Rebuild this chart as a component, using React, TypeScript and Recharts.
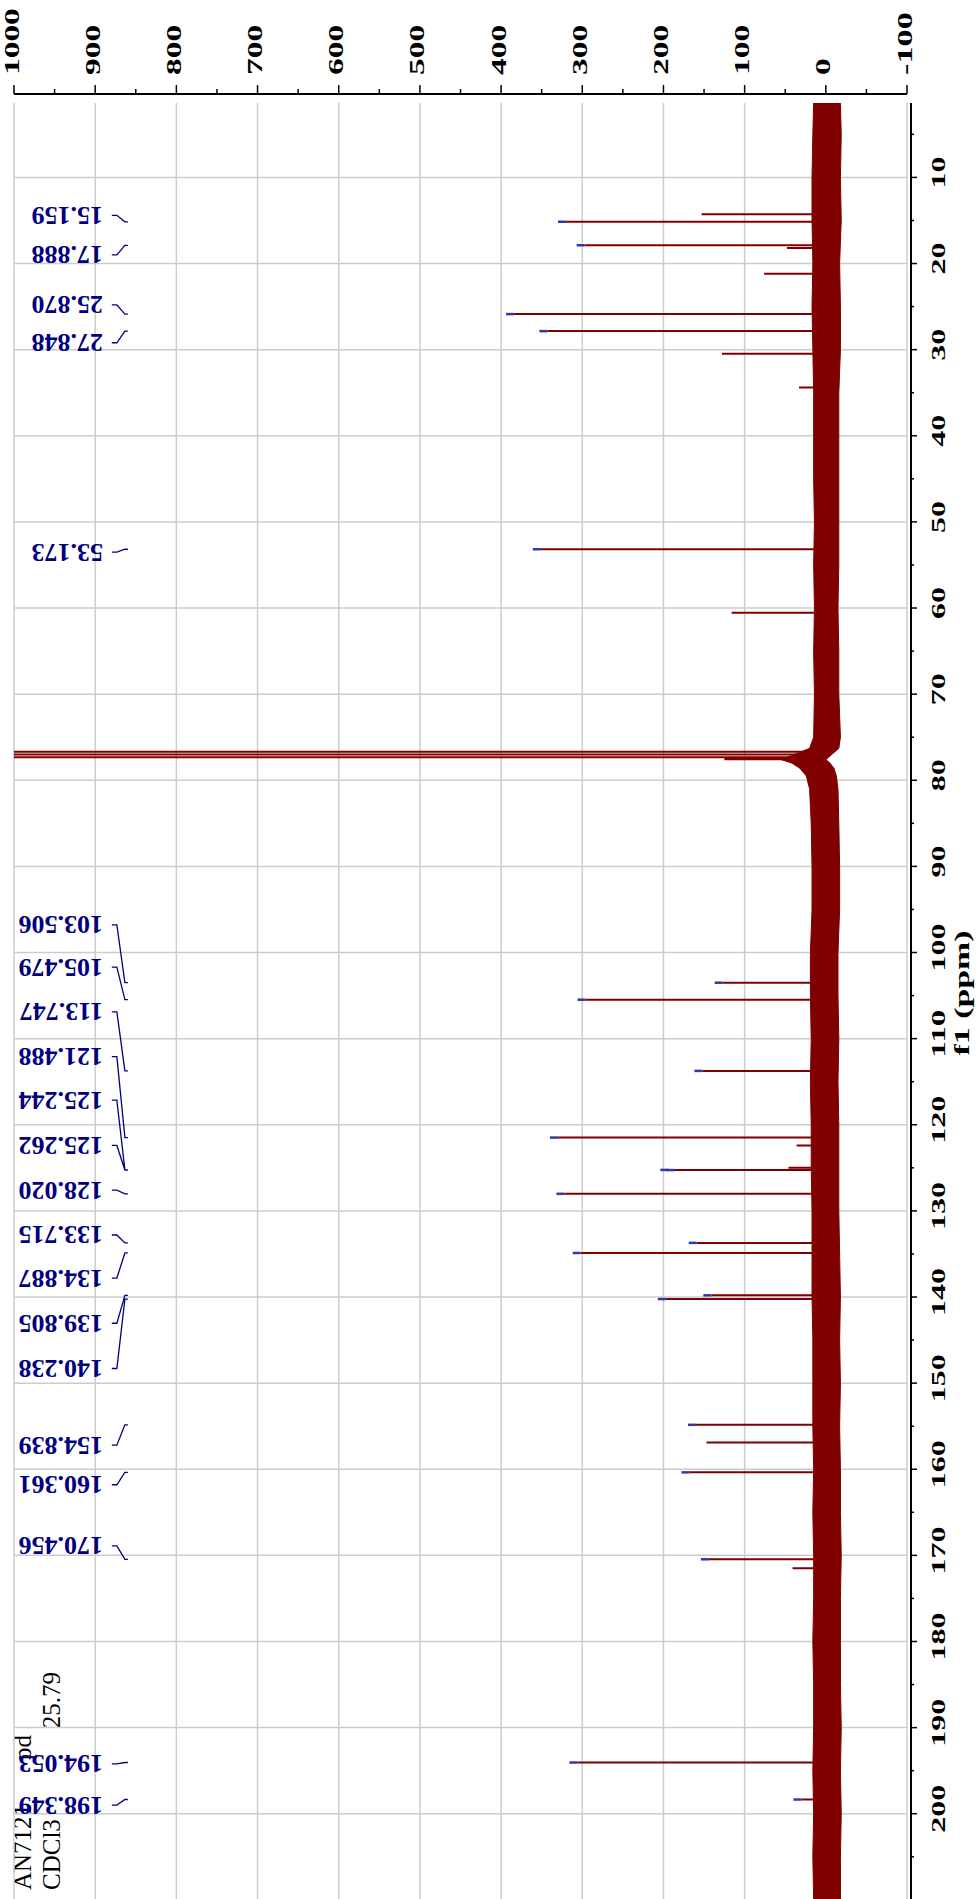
import React from 'react';
import {
  ComposedChart,
  Area,
  Line,
  Scatter,
  XAxis,
  YAxis,
  CartesianGrid,
} from 'recharts';

const SERIF = "'Liberation Serif', 'Times New Roman', serif";
const RED = '#800000';
const NAVY = '#000080';

// baseline noise envelope (ppm, upper / lower edge)
const noisePpm = [
  1.36, 5, 10, 15, 20, 25, 30, 35, 40, 45, 50, 55, 60, 65, 70, 75, 76.3, 77.6,
  78.0, 78.6, 79.5, 81, 85, 90, 95, 100, 105, 110, 115, 120, 125, 130, 135,
  140, 145, 150, 155, 160, 165, 170, 175, 180, 185, 190, 195, 200, 205, 209.9,
];
const noiseHigh = [
  15, 16, 17, 17, 16, 17, 16, 15, 15, 15, 14, 15, 14, 15, 14, 15, 20, 55,
  42, 32, 24, 20, 18, 17, 17, 19, 19, 18, 19, 18, 18, 17, 17,
  17, 16, 16, 16, 15, 16, 15, 15, 16, 15, 15, 16, 15, 16, 15,
];
const noiseLow = [
  -18, -19, -18, -19, -17, -18, -18, -16, -16, -16, -16, -16, -15, -16, -16, -18, -16, 0,
  -5, -10, -13, -15, -16, -17, -17, -15, -15, -16, -15, -16, -16, -16, -17,
  -18, -17, -18, -17, -18, -18, -19, -18, -18, -18, -19, -18, -19, -18, -18,
];

// picked (labelled) peaks
const pickedPpm = [
  15.159, 17.888, 25.87, 27.848, 53.173, 103.506, 105.479, 113.747, 121.488,
  125.244, 125.262, 128.02, 133.715, 134.887, 139.805, 140.238, 154.839,
  160.361, 170.456, 194.053, 198.349,
];
const pickedHeight = [
  320, 297, 384, 343, 351, 127, 296, 152, 330, 194, 186, 322, 159, 302, 141,
  197, 160, 168, 144, 306, 30,
];
// where each label sits along the ppm axis
const labelPpm = [
  14.4, 19.0, 24.8, 29.2, 53.5, 96.8, 101.7, 106.9, 112.1, 117.15, 122.4,
  127.6, 132.8, 137.8, 143.05, 148.3, 157.2, 161.8, 168.9, 194.2, 199.0,
];

// unlabelled lines, CDCl3 triplet, larger noise spikes
const otherPpm = [
  14.29, 18.2, 21.18, 30.47, 34.4, 60.56, 76.68, 77.0, 77.32, 77.55, 122.4,
  125.0, 156.9, 171.5,
];
const otherHeight = [
  153, 48, 76, 128, 33, 116, 1500, 1500, 1500, 125, 36, 46, 147, 41,
];

const ppmTicks = [
  5, 10, 15, 20, 25, 30, 35, 40, 45, 50, 55, 60, 65, 70, 75, 80, 85, 90, 95,
  100, 105, 110, 115, 120, 125, 130, 135, 140, 145, 150, 155, 160, 165, 170,
  175, 180, 185, 190, 195, 200, 205,
];
const ppmGrid = [
  10, 20, 30, 40, 50, 60, 70, 80, 90, 100, 110, 120, 130, 140, 150, 160, 170,
  180, 190, 200,
];
const intensityTicks = [
  -100, -50, 0, 50, 100, 150, 200, 250, 300, 350, 400, 450, 500, 550, 600, 650,
  700, 750, 800, 850, 900, 950, 1000,
];
const intensityGrid = [-100, 0, 100, 200, 300, 400, 500, 600, 700, 800, 900, 1000];

// label / connector levels on the intensity scale
const LABEL_LEVEL = 890.5;
const LINK_LEVELS = [879.5, 873.3, 863.4, 859.7];

const noiseRows = noisePpm.map((ppm, i) => ({
  ppm,
  band: [noiseLow[i], noiseHigh[i]],
}));

const allPeaks = [
  ...pickedPpm.map((ppm, i) => ({ ppm, h: pickedHeight[i] })),
  ...otherPpm.map((ppm, i) => ({ ppm, h: otherHeight[i] })),
].sort((a, b) => a.ppm - b.ppm);

const spectrumRows = allPeaks.flatMap((p) => [
  { ppm: p.ppm, v: 0 },
  { ppm: p.ppm, v: p.h },
  { ppm: p.ppm, v: 0 },
]);

const markerRows = pickedPpm.map((ppm, i) => ({ ppm, v: pickedHeight[i] }));

const connectorRows = pickedPpm.flatMap((ppm, i) => [
  { ppm: labelPpm[i], v: LINK_LEVELS[0] },
  { ppm: labelPpm[i], v: LINK_LEVELS[1] },
  { ppm, v: LINK_LEVELS[2] },
  { ppm, v: LINK_LEVELS[3] },
  { ppm, v: null },
]);

const labelRows = pickedPpm.map((ppm, i) => ({
  ppm: labelPpm[i],
  v: LABEL_LEVEL,
  text: ppm.toFixed(3),
}));

function PpmTick(props: any) {
  const { x, y, payload } = props;
  const v = payload.value;
  const major = v % 10 === 0;
  const s = String(v);
  return (
    <g>
      <line x1={x} x2={x} y1={y + 4} y2={y + (major ? 10 : 7)} stroke="#000" strokeWidth={1.5} />
      {major && (
        <text
          x={x + 5}
          y={y + 38}
          textAnchor="middle"
          fontFamily={SERIF}
          fontWeight="bold"
          fontSize={19}
          textLength={16 * s.length}
          lengthAdjust="spacingAndGlyphs"
          fill="#000"
        >
          {s}
        </text>
      )}
    </g>
  );
}

function IntensityTick(props: any) {
  const { x, y, payload } = props;
  const v = payload.value;
  const major = v % 100 === 0;
  const s = String(v);
  const len = s.length * 16.7 - (v < 0 ? 4 : 0);
  return (
    <g>
      <line x1={x + 9} x2={x + (major ? 18 : 14)} y1={y} y2={y} stroke="#000" strokeWidth={1.5} />
      {major && (
        <text
          x={x + 28}
          y={y + 4.5}
          textAnchor="start"
          fontFamily={SERIF}
          fontWeight="bold"
          fontSize={22}
          textLength={len}
          lengthAdjust="spacingAndGlyphs"
          fill="#000"
        >
          {s}
        </text>
      )}
    </g>
  );
}

function AxisTitle(props: any) {
  const { x, y, width } = props.viewBox;
  return (
    <text
      x={x + width / 2 + 8}
      y={y + 55}
      textAnchor="middle"
      dominantBaseline="central"
      fontFamily={SERIF}
      fontWeight="bold"
      fontSize={21}
      textLength={125}
      lengthAdjust="spacingAndGlyphs"
      fill="#000"
    >
      f1 (ppm)
    </text>
  );
}

function renderMarker(props: any) {
  const { cx, cy } = props;
  return <line x1={cx} x2={cx} y1={cy - 8} y2={cy} stroke="#3535a8" strokeWidth={2.5} />;
}

function renderLabel(props: any) {
  const { cx, cy, payload } = props;
  return (
    <text
      x={cx}
      y={cy}
      transform={`rotate(-90 ${cx} ${cy})`}
      textAnchor="start"
      dominantBaseline="central"
      fontFamily={SERIF}
      fontWeight="bold"
      fontSize={26}
      fill={NAVY}
    >
      {payload.text}
    </text>
  );
}

export default function App() {
  return (
    <div
      style={{
        position: 'absolute',
        left: 0,
        top: 0,
        width: 977,
        height: 1899,
        overflow: 'hidden',
        background: '#fff',
      }}
    >
      <div
        style={{
          position: 'absolute',
          left: 0,
          top: 0,
          width: 1899,
          height: 977,
          transformOrigin: '0 0',
          transform: 'translate(0px, 1899px) rotate(-90deg)',
        }}
      >
        <svg width={300} height={80} style={{ position: 'absolute', left: 0, top: 0 }}>
          <text x={9} y={31} fontFamily={SERIF} fontSize={25} fill="#000">
            AN7121<tspan dx={44}>pd</tspan>
          </text>
          <text x={9} y={60} fontFamily={SERIF} fontSize={25} fill="#000">
            CDCl3<tspan dx={91}>25.79</tspan>
          </text>
        </svg>
        <div style={{ position: 'absolute', left: 0, top: 0 }}>
          <ComposedChart
            width={1899}
            height={977}
            data={noiseRows}
            margin={{ top: 14, right: 0, bottom: 0, left: 0 }}
          >
            <CartesianGrid
              stroke="#cccccc"
              strokeWidth={1.5}
              horizontalValues={intensityGrid}
              verticalValues={ppmGrid}
            />
            <XAxis
              dataKey="ppm"
              type="number"
              domain={[1.36, 209.9]}
              reversed
              allowDataOverflow
              ticks={ppmTicks}
              interval={0}
              height={70}
              tickLine={false}
              tickSize={0}
              tickMargin={0}
              tick={<PpmTick />}
              axisLine={{ stroke: '#000', strokeWidth: 2, transform: 'translate(0 4)' }}
              label={{ value: 'f1 (ppm)', content: AxisTitle }}
            />
            <YAxis
              orientation="right"
              type="number"
              domain={[-100, 1000]}
              allowDataOverflow
              ticks={intensityTicks}
              interval={0}
              width={103}
              tickLine={false}
              tickSize={0}
              tickMargin={0}
              tick={<IntensityTick />}
              axisLine={{ stroke: '#000', strokeWidth: 2, transform: 'translate(9 0)' }}
            />
            <Area
              dataKey="band"
              type="linear"
              stroke={RED}
              strokeWidth={1}
              fill={RED}
              fillOpacity={1}
              dot={false}
              activeDot={false}
              isAnimationActive={false}
            />
            <Line
              data={spectrumRows}
              dataKey="v"
              type="linear"
              stroke={RED}
              strokeWidth={2}
              dot={false}
              activeDot={false}
              isAnimationActive={false}
            />
            <Scatter data={markerRows} dataKey="v" shape={renderMarker} isAnimationActive={false} />
            <Line
              data={connectorRows}
              dataKey="v"
              type="linear"
              stroke={NAVY}
              strokeWidth={1.3}
              dot={false}
              activeDot={false}
              isAnimationActive={false}
            />
            <Scatter data={labelRows} dataKey="v" shape={renderLabel} isAnimationActive={false} />
          </ComposedChart>
        </div>
      </div>
    </div>
  );
}
